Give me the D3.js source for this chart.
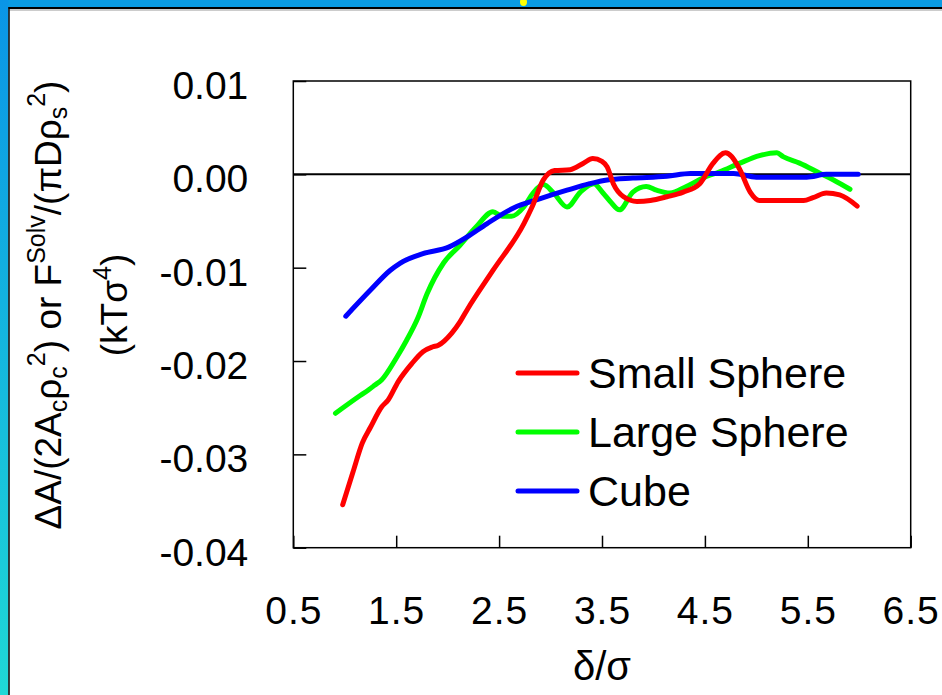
<!DOCTYPE html>
<html>
<head>
<meta charset="utf-8">
<script src="https://cdn.jsdelivr.net/npm/d3@7"></script>
<style>
    body { margin: 0; background: #ffffff; }
    text { font-family: "Liberation Sans", Arial, sans-serif; fill: #000; }
</style>
</head>
<body>
<div id="chart"></div>
<script>
// Values
const seriesNames = ['Small Sphere', 'Large Sphere', 'Cube']
const seriesColors = ['#ff0000', '#00ff00', '#0000ff']
const xTicks = [0.5, 1.5, 2.5, 3.5, 4.5, 5.5, 6.5]
const yTicks = [0.01, 0.00, -0.01, -0.02, -0.03, -0.04]

const smallSphereX = [0.98, 1.08, 1.17, 1.25, 1.36, 1.42, 1.52, 1.65, 1.76, 1.85, 1.91, 2.04, 2.12, 2.19, 2.44, 2.74, 2.82, 2.93, 3.04, 3.19, 3.32, 3.41, 3.50, 3.55, 3.61, 3.71, 3.84, 3.97, 4.13, 4.29, 4.45, 4.58, 4.70, 4.76, 4.84, 4.94, 5.03, 5.23, 5.46, 5.55, 5.68, 5.81, 5.98]
const smallSphereY = [-0.0354, -0.0319, -0.0288, -0.0271, -0.0249, -0.0242, -0.0222, -0.0203, -0.0190, -0.0185, -0.0183, -0.0170, -0.0158, -0.0145, -0.0103, -0.0053, -0.0035, -0.0006, 0.0004, 0.0005, 0.0012, 0.0017, 0.0014, 0.0008, -0.0010, -0.0024, -0.0029, -0.0028, -0.0024, -0.0019, -0.0010, 0.0012, 0.0023, 0.0019, 0.0005, -0.0019, -0.0028, -0.0028, -0.0028, -0.0025, -0.0020, -0.0022, -0.0034]

const largeSphereX = [0.91, 1.15, 1.23, 1.29, 1.36, 1.50, 1.60, 1.71, 1.80, 1.96, 2.12, 2.28, 2.44, 2.53, 2.62, 2.74, 2.83, 2.93, 3.03, 3.16, 3.29, 3.42, 3.51, 3.58, 3.67, 3.80, 3.93, 4.03, 4.16, 4.32, 4.48, 4.65, 4.84, 5.03, 5.20, 5.26, 5.42, 5.62, 5.75, 5.91]
const largeSphereY = [-0.0256, -0.0237, -0.0231, -0.0226, -0.0220, -0.0197, -0.0178, -0.0154, -0.0128, -0.0095, -0.0076, -0.0056, -0.0040, -0.0045, -0.0045, -0.0035, -0.0020, -0.0011, -0.0020, -0.0035, -0.0019, -0.0010, -0.0020, -0.0029, -0.0038, -0.0019, -0.0013, -0.0017, -0.0020, -0.0013, -0.0004, 0.0003, 0.0012, 0.0020, 0.0023, 0.0019, 0.0012, 0.0001, -0.0006, -0.0016]

const cubeX = [1.01, 1.25, 1.44, 1.54, 1.76, 2.01, 2.19, 2.38, 2.64, 2.90, 3.16, 3.38, 3.55, 3.80, 4.13, 4.36, 4.78, 5.00, 5.49, 5.68, 5.99]
const cubeY = [-0.0152, -0.0124, -0.0103, -0.0095, -0.0085, -0.0078, -0.0067, -0.0053, -0.0036, -0.0026, -0.0017, -0.0010, -0.0006, -0.0004, -0.0002, 0.0001, 0.0001, -0.0003, -0.0003, 0.0000, 0.0000]

function getTranslateString(x, y) {
    return 'translate(' + x + ', ' + y + ')'
}

const width = 942
const height = 695
const plotLeft = 293.3
const plotRight = 910.7
const plotTop = 81
const plotBottom = 547.7

const svg = d3.select('#chart').append('svg').attr('width', width).attr('height', height)

// slide frame (blue bands at top and left)
const grad = svg.append('defs').append('linearGradient').attr('id', 'leftBand')
    .attr('x1', 0).attr('y1', 0).attr('x2', 0).attr('y2', 1)
grad.append('stop').attr('offset', '0%').attr('stop-color', '#0a95e6')
grad.append('stop').attr('offset', '100%').attr('stop-color', '#1fd8d6')
svg.append('rect').attr('x', 0).attr('y', 0).attr('width', width).attr('height', 7).style('fill', '#0a9be3')
svg.append('rect').attr('x', 0).attr('y', 0).attr('width', 8.5).attr('height', height).style('fill', 'url(#leftBand)')
svg.append('line').attr('x1', 8.5).attr('x2', width).attr('y1', 8).attr('y2', 8).style('stroke', '#000').style('stroke-width', 2)
svg.append('line').attr('x1', 9.5).attr('x2', width).attr('y1', 10).attr('y2', 10).style('stroke', '#bbbbbb').style('stroke-width', 1.5)
svg.append('line').attr('x1', 9).attr('x2', 9).attr('y1', 7).attr('y2', height).style('stroke', '#000').style('stroke-width', 1.5)
svg.append('ellipse').attr('cx', 523.5).attr('cy', 2).attr('rx', 3.5).attr('ry', 4).style('fill', '#ffff00')

const xScale = d3.scaleLinear().domain([0.5, 6.5]).range([plotLeft, plotRight])
const yScale = d3.scaleLinear().domain([-0.04, 0.01]).range([plotBottom, plotTop])

const xAxis = d3.axisBottom(xScale).tickValues(xTicks).tickSizeInner(-12).tickSizeOuter(0)
    .tickPadding(49).tickFormat(d => d.toFixed(1))
const gx = svg.append('g').attr('transform', getTranslateString(0, plotBottom)).call(xAxis)
gx.select('.domain').remove()
gx.selectAll('.tick line').style('stroke', '#000').style('stroke-width', 1.5)
gx.selectAll('.tick text').attr('font-size', 39).attr('letter-spacing', 1)
    .attr('font-family', '"Liberation Sans", Arial, sans-serif')

const yAxis = d3.axisLeft(yScale).tickValues(yTicks).tickSizeInner(-13).tickSizeOuter(0)
    .tickPadding(45).tickFormat(d => d.toFixed(2))
const gy = svg.append('g').attr('transform', getTranslateString(plotLeft, 0)).call(yAxis)
gy.select('.domain').remove()
gy.selectAll('.tick line').style('stroke', '#000').style('stroke-width', 1.5)
gy.selectAll('.tick text').attr('font-size', 39).attr('dy', '0.45em')
    .attr('font-family', '"Liberation Sans", Arial, sans-serif')

// plot frame and zero line
svg.append('rect').attr('x', plotLeft).attr('y', plotTop).attr('width', plotRight - plotLeft).attr('height', plotBottom - plotTop)
    .style('fill', 'none').style('stroke', '#000').style('stroke-width', 1.5)
svg.append('line').attr('x1', xScale(0.5)).attr('x2', xScale(6.5)).attr('y1', yScale(0)).attr('y2', yScale(0))
    .style('stroke', '#000').style('stroke-width', 2)

// curves
const seriesData = [
    d3.zip(smallSphereX, smallSphereY),
    d3.zip(largeSphereX, largeSphereY),
    d3.zip(cubeX, cubeY)
]
const lineGen = d3.line().x(d => xScale(d[0])).y(d => yScale(d[1])).curve(d3.curveMonotoneX)
const drawOrder = [1, 2, 0]   // red sits on top
for (let i of drawOrder) {
    svg.append('path').attr('d', lineGen(seriesData[i]))
        .style('fill', 'none').style('stroke', seriesColors[i]).style('stroke-width', 5)
        .style('stroke-linecap', 'round').style('stroke-linejoin', 'round')
}

// legend
const legendX = 518
const legendY = 373
const legendStep = 59
seriesNames.forEach((name, i) => {
    let y = legendY + i * legendStep
    svg.append('line').attr('x1', legendX).attr('x2', legendX + 59).attr('y1', y).attr('y2', y)
        .style('stroke', seriesColors[i]).style('stroke-width', 5).style('stroke-linecap', 'round')
    svg.append('text').attr('x', legendX + 70).attr('y', y).attr('dy', '0.36em').attr('font-size', 43).text(name)
})

// axis titles
svg.append('text').attr('x', xScale(3.5)).attr('y', 680).attr('text-anchor', 'middle').attr('font-size', 40).text('δ/σ')

const title1 = svg.append('text').attr('transform', getTranslateString(61, 305) + ' rotate(-90)')
    .attr('text-anchor', 'middle').attr('font-size', 37)
const titleParts = [
    ['ΔA/(2A', 0], ['c', -1], ['ρ', 0], ['c', -1], ['2', 1], [') or F', 0], ['Solv', 1],
    ['/(πDρ', 0], ['s', -1], ['2', 1], [')', 0]
]
for (let [txt, shift] of titleParts) {
    let t = title1.append('tspan').text(txt)
    if (shift < 0) t.attr('font-size', 25).attr('baseline-shift', -6)
    if (shift > 0) t.attr('font-size', 25).attr('baseline-shift', 16)
}
const title2 = svg.append('text').attr('transform', getTranslateString(127, 305) + ' rotate(-90)')
    .attr('text-anchor', 'middle').attr('font-size', 37)
title2.append('tspan').text('(kTσ')
title2.append('tspan').text('4').attr('font-size', 25).attr('baseline-shift', 16)
title2.append('tspan').text(')')
</script>
</body>
</html>
